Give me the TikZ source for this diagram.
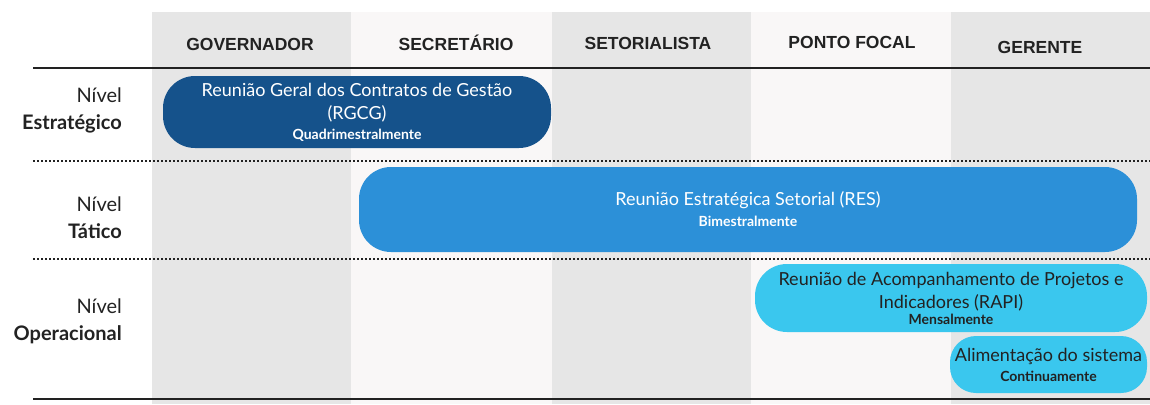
\documentclass[tikz,border=0pt]{standalone}
\usepackage{fontspec}
\setmainfont{Lato}
\newfontfamily\hdrfont{Liberation Sans}
\newcommand\freqfont{\bfseries\fontsize{14}{15}\selectfont}
\definecolor{gcol}{HTML}{E6E6E6}
\definecolor{lcol}{HTML}{F9F7F7}
\definecolor{dblue}{HTML}{15528B}
\definecolor{mblue}{HTML}{2C90D8}
\definecolor{lblue}{HTML}{3AC7EE}
\definecolor{ink}{HTML}{222222}
\tikzset{
  colhead/.style={font=\hdrfont\bfseries\fontsize{17.5}{19}\selectfont, text=ink, inner sep=0pt},
  lvl/.style={align=right, anchor=east, text=ink, inner sep=0pt, font=\fontsize{20}{27}\selectfont},
  meet/.style={rectangle, rounded corners=32pt, align=center, inner sep=0pt, font=\fontsize{18}{23}\selectfont},
  solidrule/.style={line width=2.2pt, ink},
  dotrule/.style={line width=2pt, ink, dash pattern=on 2pt off 2pt}
}
\begin{document}
\begin{tikzpicture}[x=1pt,y=-1pt]
\useasboundingbox (0,0) rectangle (1150,404);
\fill[white] (0,0) rectangle (1150,404);
% columns
\fill[gcol] (152,12) rectangle (351,404);
\fill[lcol] (351,12) rectangle (552,404);
\fill[gcol] (552,12) rectangle (751,404);
\fill[lcol] (751,12) rectangle (951,404);
\fill[gcol] (951,12) rectangle (1150,404);
% headers
\node[colhead] (h1) at (250,44) {GOVERNADOR};
\node[colhead] (h2) at (456,43) {SECRETÁRIO};
\node[colhead] (h3) at (648,43) {SETORIALISTA};
\node[colhead] (h4) at (852,42) {PONTO FOCAL};
\node[colhead] (h5) at (1040,47) {GERENTE};
% rules
\coordinate (r0a) at (33,68);  \coordinate (r0b) at (1150,68);
\coordinate (r1a) at (33,161); \coordinate (r1b) at (1150,161);
\coordinate (r2a) at (33,259); \coordinate (r2b) at (1150,259);
\coordinate (r3a) at (33,399); \coordinate (r3b) at (1150,399);
\draw[solidrule] (r0a) -- (r0b);
\draw[dotrule] (r1a) -- (r1b);
\draw[dotrule] (r2a) -- (r2b);
\draw[solidrule] (r3a) -- (r3b);
% level labels
\node[lvl] (l1) at (122,110) {Nível\\\textbf{Estratégico}};
\node[lvl] (l2) at (122,218) {Nível\\\textbf{Tático}};
\node[lvl] (l3) at (122,321) {Nível\\\textbf{Operacional}};
% meetings
\node[meet, fill=dblue, text=white, minimum width=388pt, minimum height=72pt] (rgcg) at (357,112)
  {Reunião Geral dos Contratos de Gestão\\(RGCG)\\[-3pt]{\freqfont Quadrimestralmente}};
\node[meet, fill=mblue, text=white, minimum width=778pt, minimum height=85pt] (res) at (748,209.5)
  {Reunião Estratégica Setorial (RES)\\[-2pt]{\freqfont Bimestralmente}};
\node[meet, fill=lblue, text=ink, minimum width=392pt, minimum height=68pt] (rapi) at (951,298)
  {Reunião de Acompanhamento de Projetos e\\Indicadores (RAPI)\\[-7pt]{\freqfont Mensalmente}};
\node[meet, fill=lblue, text=ink, rounded corners=26pt, minimum width=197pt, minimum height=57pt] (alim) at (1048.5,364.5)
  {Alimentação do sistema\\[-3pt]{\freqfont Continuamente}};
\end{tikzpicture}
\end{document}
